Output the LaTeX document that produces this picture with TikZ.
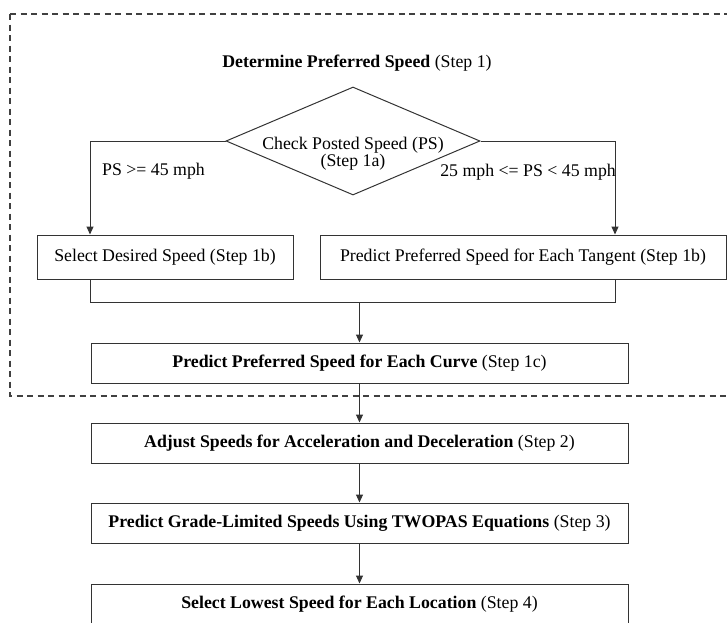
\documentclass[tikz,border=0pt]{standalone}
\usepackage{fontspec}
\setmainfont{Liberation Serif}
\usetikzlibrary{shapes.geometric,arrows.meta}
\begin{document}
\begin{tikzpicture}[x=1pt,y=-1pt,
  every node/.style={font=\fontsize{17.8}{16}\selectfont},
  edge/.style={draw=black!80, line width=1pt},
  arr/.style={edge, -{Triangle[length=8pt,width=7pt]}},
  stepbox/.style={draw=black!80, line width=1pt, inner sep=0pt, minimum height=40pt},
  frame/.style={draw=black!75, line width=1.3pt, dash pattern=on 6pt off 4.5pt},
]
\useasboundingbox (0,0) rectangle (727,622);
\clip (0,0) rectangle (727,622);

% dashed frame around Step 1
\draw[frame] (10,14) -- (10,396) -- (740,396);
\draw[frame] (10,14) -- (740,14);

\node (title) at (357,63) {\textbf{Determine Preferred Speed} (Step 1)};

% decision on posted speed
\node[draw=black!80, line width=1pt, diamond, minimum width=254pt, minimum height=108pt, inner sep=0pt] (chk) at (353,141) {};
\node[align=center, inner sep=0pt] (chkl) at (353,154) {Check Posted Speed (PS)\\(Step 1a)};

\node[stepbox, minimum width=256pt, minimum height=44pt] (desired) at (165,257) {Select Desired Speed (Step 1b)};
\node[stepbox, minimum width=406pt, minimum height=44pt] (tangent) at (523,257) {Predict Preferred Speed for Each Tangent (Step 1b)};

\coordinate (lt) at (90,141);
\coordinate (rt) at (615,141);
\draw[arr] (chk.west) -- (lt) -- (lt |- desired.north);
\draw[arr] (chk.east) -- (rt) -- (rt |- tangent.north);

\node[anchor=west, inner sep=0pt] (ge) at (102,171) {PS >= 45 mph};
\node[anchor=east, inner sep=0pt] (lt45) at (616,172) {25 mph <= PS < 45 mph};

\node[stepbox, minimum width=537pt] (curve) at (359.5,363) {\textbf{Predict Preferred Speed for Each Curve} (Step 1c)};
\node[stepbox, minimum width=537pt] (accel) at (359.5,443) {\textbf{Adjust Speeds for Acceleration and Deceleration} (Step 2)};
\node[stepbox, minimum width=537pt] (grade) at (359.5,523) {\textbf{Predict Grade-Limited Speeds Using TWOPAS Equations} (Step 3)};
\node[stepbox, minimum width=537pt] (lowest) at (359.5,604) {\textbf{Select Lowest Speed for Each Location} (Step 4)};

% merge of both branches
\coordinate (ml) at (90,302);
\coordinate (mr) at (615,302);
\coordinate (mc) at (359.5,302);
\draw[edge] (lt |- desired.south) -- (ml) -- (mr) -- (rt |- tangent.south);
\draw[arr] (mc) -- (curve.north);

\draw[arr] (curve) -- (accel);
\draw[arr] (accel) -- (grade);
\draw[arr] (grade) -- (lowest);
\end{tikzpicture}
\end{document}
